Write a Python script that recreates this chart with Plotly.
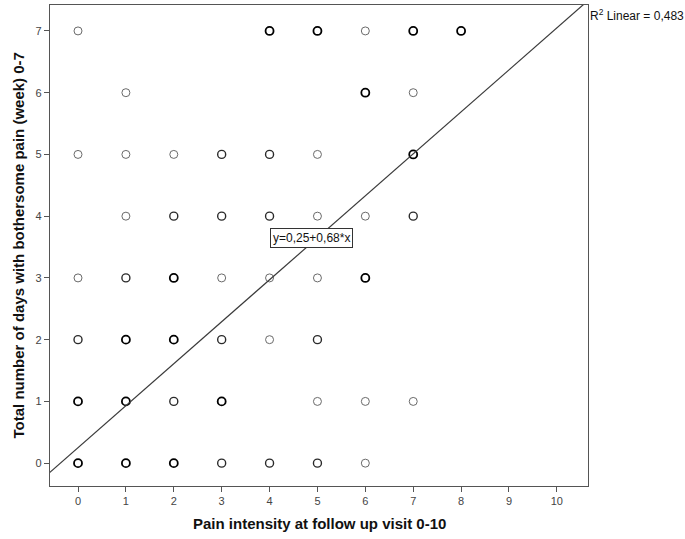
import plotly.graph_objects as go

# Data: pain intensity (x), days with bothersome pain (y), overlap level (1 thin .. 3 bold)
x_vals = [0, 4, 5, 6, 7, 8,
          1, 6, 7,
          0, 1, 2, 3, 4, 5, 7,
          1, 2, 3, 4, 5, 6, 7,
          0, 1, 2, 3, 4, 5, 6,
          0, 1, 2, 3, 4, 5,
          0, 1, 2, 3, 5, 6, 7,
          0, 1, 2, 3, 4, 5, 6]
y_vals = [7, 7, 7, 7, 7, 7,
          6, 6, 6,
          5, 5, 5, 5, 5, 5, 5,
          4, 4, 4, 4, 4, 4, 4,
          3, 3, 3, 3, 3, 3, 3,
          2, 2, 2, 2, 2, 2,
          1, 1, 1, 1, 1, 1, 1,
          0, 0, 0, 0, 0, 0, 0]
overlap = [1, 3, 3, 1, 3, 3,
           1, 3, 1,
           1, 1, 1, 2, 2, 1, 3,
           1, 2, 2, 2, 1, 1, 2,
           1, 2, 3, 1, 1, 1, 3,
           2, 3, 3, 2, 1, 2,
           3, 3, 2, 3, 1, 1, 1,
           3, 3, 3, 2, 2, 2, 1]

intercept = 0.25
slope = 0.68
r2_text = "R<sup>2</sup> Linear = 0,483"
eq_text = "y=0,25+0,68*x"

x_ticks = list(range(0, 11))
y_ticks = list(range(0, 8))
x_range = [-0.585, 10.65]
y_range = [-0.37, 7.42]

styles = {1: ("#6a6a6a", 1.0), 2: ("#2a2a2a", 1.4), 3: ("#000000", 1.8)}

fig = go.Figure()
for lvl in (1, 2, 3):
    xs = [x for x, o in zip(x_vals, overlap) if o == lvl]
    ys = [y for y, o in zip(y_vals, overlap) if o == lvl]
    col, w = styles[lvl]
    fig.add_trace(go.Scatter(
        x=xs, y=ys, mode="markers",
        marker=dict(symbol="circle-open", size=8, color=col, line=dict(width=w, color=col)),
        showlegend=False, hoverinfo="x+y"))

fx = [x_range[0] - 0.1, x_range[1] + 0.1]
fy = [intercept + slope * v for v in fx]
fig.add_trace(go.Scatter(x=fx, y=fy, mode="lines",
                         line=dict(color="#3a3a3a", width=1.2),
                         showlegend=False, hoverinfo="skip"))

axis_common = dict(showgrid=False, zeroline=False, showline=True, mirror=True,
                   linecolor="#555555", linewidth=1.3, ticks="outside", ticklen=5,
                   tickcolor="#555555", tickwidth=1,
                   tickfont=dict(family="Arial, Liberation Sans", size=11, color="#444444"))

fig.update_layout(
    width=685, height=539,
    margin=dict(l=50, r=97, t=5, b=53),
    paper_bgcolor="white", plot_bgcolor="white",
    xaxis=dict(range=x_range, tickvals=x_ticks, **axis_common),
    yaxis=dict(range=y_range, tickvals=y_ticks, **axis_common),
    annotations=[
        dict(text="<b>Pain intensity at follow up visit 0-10</b>", xref="paper", yref="paper",
             x=0.5, y=0, yshift=-37, xanchor="center", yanchor="middle", showarrow=False,
             font=dict(family="Arial, Liberation Sans", size=15, color="#111111")),
        dict(text="<b>Total number of days with bothersome pain (week) 0-7</b>", xref="paper", yref="paper",
             x=0, y=0.5, xshift=-32, xanchor="center", yanchor="middle", showarrow=False,
             textangle=-90,
             font=dict(family="Arial, Liberation Sans", size=15, color="#111111")),
        dict(text=r2_text, xref="paper", yref="paper", x=1, y=1, xshift=0, yshift=0,
             xanchor="left", yanchor="top", showarrow=False,
             font=dict(family="Arial, Liberation Sans", size=12, color="#111111")),
        dict(text=eq_text, x=4.885, y=3.645, xref="x", yref="y", showarrow=False,
             bgcolor="white", bordercolor="#333333", borderwidth=1, borderpad=2,
             font=dict(family="Arial, Liberation Sans", size=12, color="#111111")),
    ],
)

fig.write_html("out.html")
